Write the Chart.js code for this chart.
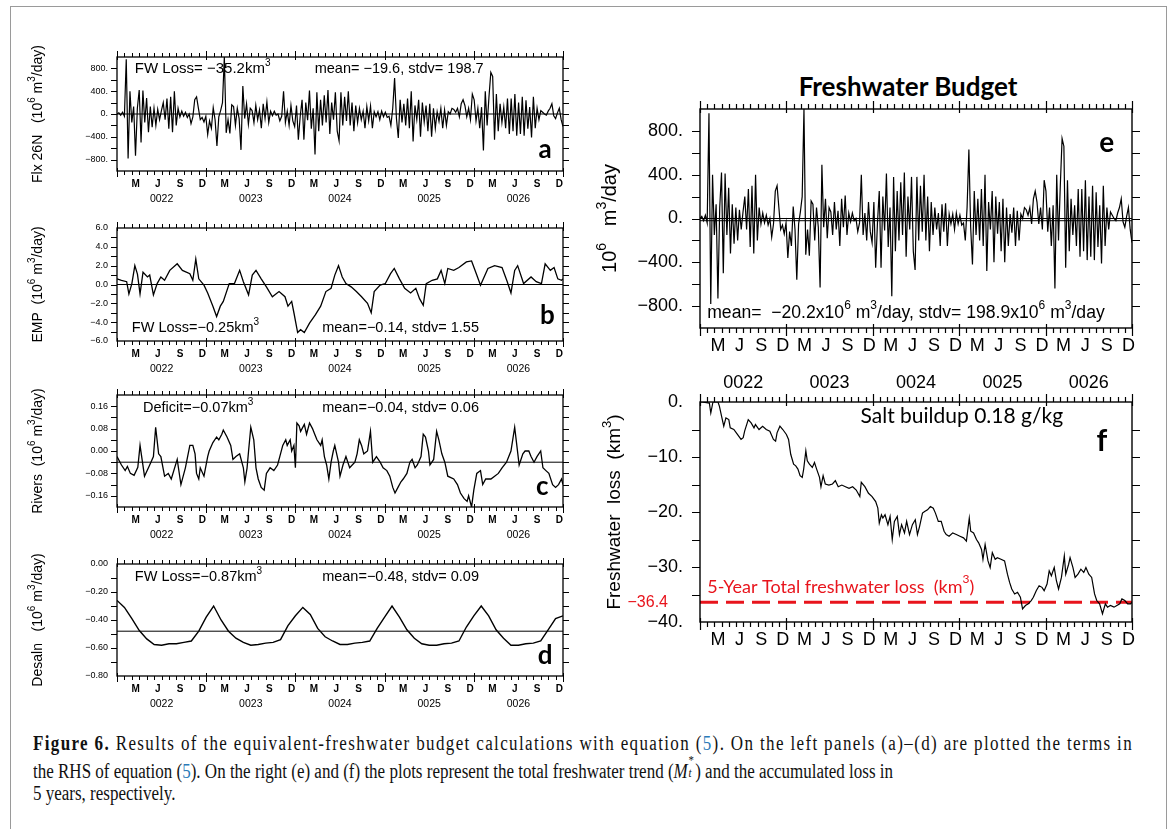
<!DOCTYPE html>
<html>
<head>
<meta charset="utf-8">
<title>Freshwater Budget</title>
<script src="https://cdn.jsdelivr.net/npm/chart.js@4.4.1/dist/chart.umd.min.js"></script>
<style>
  body { margin: 0; background: #fff; width: 1173px; height: 829px; position: relative; overflow: hidden; font-family: "Liberation Sans", Arial, sans-serif; }
  .frame { position: absolute; left: 10px; top: 6px; width: 1155px; height: 900px; border: 1.5px solid #9a9a9a; }
  canvas { position: absolute; }
  #title { position: absolute; left: 758px; width: 300px; top: 70px; text-align: center; font: bold 26px "Lato", sans-serif; color: #000; }
  .cap { position: absolute; left: 33px; font: 20.5px "Liberation Serif", serif; color: #111; white-space: nowrap; line-height: 22px; transform-origin: 0 50%; }
  .cap .ref { color: #2a7ab8; }
  .ms { position: relative; display: inline-block; width: 9px; height: 1em; }
  .ms span { position: absolute; left: 1px; font-size: 13px; line-height: 13px; }
</style>
</head>
<body>
<div class="frame"></div>
<div id="title">Freshwater Budget</div>

<canvas id="pa" width="555" height="195" style="left:20px;top:12px"></canvas>
<canvas id="pb" width="555" height="194" style="left:20px;top:183px"></canvas>
<canvas id="pc" width="555" height="193" style="left:20px;top:350px"></canvas>
<canvas id="pd" width="555" height="193" style="left:20px;top:519px"></canvas>
<canvas id="pe" width="556" height="261" style="left:590px;top:97px"></canvas>
<canvas id="pf" width="556" height="280" style="left:590px;top:372px"></canvas>

<div class="cap" id="cap1" style="top:732px"><b>Figure 6.</b> Results of the equivalent-freshwater budget calculations with equation (<span class="ref">5</span>). On the left panels (a)–(d) are plotted the terms in</div>
<div class="cap" id="cap2" style="top:757px">the RHS of equation (<span class="ref">5</span>). On the right (e) and (f) the plots represent the total freshwater trend (<i>M</i><span class="ms"><span style="top:-4px">*</span><span style="top:9px"><i>t</i></span></span>) and the accumulated loss in</div>
<div class="cap" id="cap3" style="top:782px">5 years, respectively.</div>

<script>
// axis labels
const monthLabels = ['M', 'J', 'S', 'D'];
const yearLabels = ['0022', '0023', '0024', '0025', '0026'];

// (a) Flx 26N and (e) total trend, weekly samples over the 5 years (10^6 m3/day)
const flx26n = [
  0, 20, -20, 30, -40, 960, -780, 400, -150, 130,
  -730, 100, 420, -500, 410, -150, 280, -320, 130, -230,
  100, -200, 80, -100, 60, 200, -100, 270, -260, 300,
  -320, 400, -200, 100, -50, 50, -40, 30, -60, 0,
  -170, -50, 250, 300, 100, -100, -60, -140, -40, -360,
  -120, -250, 110, -100, -560, -50, 60, 200, 1000, -330,
  -100, -340, 160, 130, -200, 100, -80, -630, 490, -80,
  180, -180, 100, 60, -150, 150, -100, 70, -250, 180,
  -80, 210, -150, 50, -30, 50, -20, 0, -120, -40,
  400, -150, 50, -200, 150, -120, -220, 150, -450, -40,
  250, -450, 200, -110, 410, -260, 100, -710, 380, -300,
  250, -200, 330, -150, 420, -350, 200, -100, 380, -300,
  -470, 380, -200, 300, -120, 400, -200, 200, -300, 150,
  -150, 100, -100, 50, -250, 130, -120, 140, -250, 40,
  -50, 40, -100, 50, -50, 30, -60, -40, -200, 100,
  630, -80, -420, 250, -150, 180, -200, 270, -250, 400,
  -480, 150, -100, 250, -400, 200, -140, 150, -300, 180,
  -400, 100, -250, 40, -130, 100, -250, 70, -200, 40,
  0, 100, 80, 30, 100, -50, 180, 250, 150, -50,
  100, -100, 350, 250, -120, 100, -250, 120, -640, 400,
  -200, 300, 730, 660, -450, 350, -300, 180, -150, 120,
  -250, 270, -350, 270, -300, 350, -380, 200, -350, 300,
  -380, 240, -260, 120, -410, 300, -250, 100, -100, 60,
  30, 0, -20, 50, 100, 180, -30, -80, 20, 100,
  -100, -220
];

// (b) EMP
const empMonths = [
  0, 0.6, 1.3, 1.6, 2.0, 2.4, 2.75, 3.1, 3.5, 4.1,
  4.4, 4.9, 5.4, 5.9, 6.4, 7.1, 8.1, 8.8, 9.8, 10.2,
  10.6, 11.0, 11.7, 12.2, 12.9, 13.4, 13.9, 14.3, 15.1, 15.8,
  16.5, 17.0, 17.7, 18.2, 18.7, 19.4, 20.1, 20.9, 21.8, 22.6,
  23.0, 23.5, 23.8, 24.3, 24.7, 25.2, 25.9, 26.7, 27.4, 28.1,
  28.8, 29.3, 29.8, 30.3, 30.8, 31.5, 32.2, 32.9, 33.7, 34.2,
  34.6, 35.4, 36.1, 36.8, 37.3, 38.0, 38.7, 39.5, 40.2, 40.7,
  41.2, 41.6, 42.4, 43.1, 43.6, 44.1, 44.5, 45.3, 46.0, 47.0,
  47.7, 48.4, 48.9, 49.9, 50.8, 51.8, 52.5, 53.0, 53.5, 53.9,
  54.7, 55.7, 56.4, 57.1, 57.6, 58.3, 58.8, 59.3, 59.8, 60
];
const empValues = [
  0.6, 0.45, 0.3, -1.0, 0.1, 2.0, 1.1, -1.0, 1.3, 0.8,
  1.0, -1.1, 0.1, 0.8, 0.45, 1.5, 2.2, 1.5, 1.15, 0.45,
  2.7, 0.6, -0.07, -0.9, -2.3, -3.4, -2.3, -1.8, 0.1, 0.1,
  1.5, 0.3, -1.1, 1.0, 1.5, 0.6, -0.25, -1.3, -0.75, -1.3,
  -2.3, -1.8, -3.0, -5.1, -4.8, -5.1, -4.1, -3.2, -2.3, -0.75,
  -0.4, 1.0, 2.0, 0.8, 0.1, -0.25, -0.75, -1.3, -2.0, -3.0,
  -0.75, -0.07, 0.1, 1.15, 1.7, 0.6, -0.4, -0.9, -0.4, -1.5,
  -2.2, 0.1, 0.45, 0.6, 1.5, 0.1, 1.7, 1.5, 1.8, 2.4,
  2.5, 1.0, -0.07, 1.7, 2.0, 1.8, 0.3, -0.9, 1.5, 2.0,
  0.1, 0.8, 0.3, 0.1, 2.2, 1.5, 1.8, 0.6, 0.45, 0.6
];

// (c) Rivers
const riverMonths = [
  0, 0.6, 1.1, 1.4, 1.8, 2.3, 2.8, 3.1, 3.7, 4.4,
  4.9, 5.2, 5.6, 5.9, 6.4, 6.9, 7.3, 8.1, 8.6, 9.2,
  9.8, 10.2, 10.5, 10.7, 11.0, 11.2, 11.7, 12.2, 12.4, 12.9,
  13.4, 13.7, 14.1, 14.3, 14.8, 15.3, 15.6, 16.0, 16.5, 17.0,
  17.2, 17.5, 17.7, 18.0, 18.4, 18.7, 19.0, 19.4, 19.8, 20.1,
  20.6, 21.1, 21.6, 21.9, 22.3, 22.7, 22.9, 23.3, 23.5, 23.8,
  24.0, 24.2, 24.5, 24.7, 25.2, 25.5, 25.9, 26.3, 26.6, 26.9,
  27.4, 27.6, 27.9, 28.2, 28.5, 28.8, 29.1, 29.3, 29.8, 30.0,
  30.4, 30.8, 31.3, 32.0, 32.3, 32.6, 32.9, 33.2, 33.7, 34.1,
  34.4, 34.9, 35.4, 35.8, 36.3, 36.7, 37.1, 37.4, 37.8, 38.2,
  38.5, 39.0, 39.4, 39.7, 40.1, 40.4, 40.9, 41.2, 41.5, 41.9,
  42.1, 42.6, 43.0, 43.3, 43.7, 44.1, 44.5, 45.3, 45.8, 46.2,
  46.7, 47.1, 47.3, 47.7, 48.0, 48.4, 48.9, 49.2, 49.6, 50.3,
  50.8, 51.3, 51.8, 52.4, 53.0, 53.5, 53.7, 54.1, 54.6, 54.9,
  55.4, 55.7, 56.1, 56.5, 57.0, 57.3, 57.7, 58.1, 58.6, 59.0,
  59.4, 59.8, 60
];
const riverValues = [
  -0.02, -0.05, -0.07, -0.055, -0.08, -0.087, -0.058, 0.02, -0.09, -0.05,
  -0.02, 0.085, -0.01, -0.02, -0.09, -0.08, -0.1, -0.03, -0.12, -0.06,
  0.02, 0.02, -0.01, -0.08, -0.1, -0.06, -0.09, -0.02, 0.0, 0.03,
  0.05, 0.04, 0.06, 0.075, 0.05, 0.02, -0.03, -0.02, -0.01, -0.06,
  -0.11, -0.06, 0.0, 0.085, 0.04, -0.06, -0.1, -0.13, -0.14, -0.08,
  -0.06, -0.07, -0.05, -0.02, 0.02, 0.04, 0.02, 0.04, 0.0, 0.02,
  -0.06, 0.1, 0.09, 0.07, 0.095, 0.06, 0.1, 0.08, 0.06, 0.04,
  0.02, 0.04, -0.02, -0.05, -0.1, -0.04, 0.0, 0.02, -0.04, -0.09,
  -0.05, -0.02, -0.06, -0.04, -0.01, 0.04, 0.02, -0.01, 0.0, 0.07,
  -0.04, -0.02, -0.04, -0.06, -0.07, -0.09, -0.13, -0.15, -0.13, -0.11,
  -0.1, -0.08, -0.04, -0.03, -0.06, -0.05, -0.02, 0.06, 0.05, 0.0,
  -0.05, -0.03, 0.07, 0.04, -0.01, -0.04, -0.09, -0.1, -0.12, -0.15,
  -0.17, -0.18, -0.16, -0.2, -0.14, -0.08, -0.07, -0.12, -0.1, -0.1,
  -0.09, -0.08, -0.06, -0.04, 0.0, 0.085, 0.04, -0.05, -0.01, 0.0,
  0.0, -0.02, -0.04, -0.02, 0.0, -0.06, -0.07, -0.08, -0.12, -0.13,
  -0.12, -0.1, -0.12
];

// (d) Desalination, monthly
const desalValues = [
  -0.26, -0.31, -0.39, -0.475, -0.535, -0.575, -0.58, -0.57, -0.57, -0.56,
  -0.55, -0.48, -0.38, -0.30, -0.40, -0.48, -0.53, -0.56, -0.58, -0.575,
  -0.565, -0.56, -0.54, -0.44, -0.37, -0.31, -0.36, -0.46, -0.52, -0.55,
  -0.575, -0.575, -0.565, -0.56, -0.55, -0.46, -0.38, -0.30, -0.38, -0.47,
  -0.53, -0.57, -0.58, -0.58, -0.57, -0.565, -0.55, -0.45, -0.37, -0.30,
  -0.37, -0.47, -0.53, -0.58, -0.58, -0.57, -0.565, -0.55, -0.47, -0.39,
  -0.37
];

// (f) accumulated freshwater loss (km3)
const lossMonths = [
  0, 0.3, 1.3, 1.5, 1.8, 2.5, 2.7, 3.0, 3.3, 3.6,
  4.0, 4.2, 4.7, 5.2, 5.7, 6.0, 6.2, 6.7, 7.1, 7.5,
  7.7, 8.2, 8.7, 9.2, 9.7, 10.2, 10.5, 10.7, 11.1, 11.5,
  12.0, 12.3, 12.6, 13.0, 13.3, 13.6, 13.9, 14.2, 14.4, 14.7,
  14.9, 15.2, 15.6, 15.9, 16.2, 16.6, 16.8, 17.1, 17.4, 17.9,
  18.4, 18.8, 19.2, 19.7, 20.2, 20.7, 21.2, 21.7, 22.2, 22.4,
  22.9, 23.4, 23.9, 24.4, 24.7, 24.9, 25.2, 25.4, 25.7, 26.1,
  26.4, 26.7, 27.0, 27.4, 27.7, 28.0, 28.4, 28.7, 29.1, 29.5,
  29.9, 30.2, 30.5, 30.9, 31.2, 31.6, 32.0, 32.4, 32.7, 33.1,
  33.5, 33.9, 34.2, 34.6, 35.1, 35.6, 36.1, 36.6, 37.0, 37.4,
  37.6, 38.0, 38.4, 38.7, 39.1, 39.3, 39.6, 40.0, 40.3, 40.6,
  41.0, 41.3, 41.8, 42.3, 42.7, 43.0, 43.3, 43.7, 44.1, 44.5,
  44.8, 45.2, 45.6, 46.0, 46.3, 46.7, 47.1, 47.5, 47.8, 48.2,
  48.5, 48.8, 49.2, 49.5, 49.8, 50.2, 50.6, 50.8, 51.2, 51.4,
  51.8, 52.1, 52.5, 52.9, 53.3, 53.6, 54.0, 54.4, 54.8, 55.1,
  55.5, 55.9, 56.3, 56.6, 57.0, 57.5, 57.9, 58.3, 58.6, 59.0,
  59.4, 59.8, 60.0
];
const lossValues = [
  0, 0, -0.2, -2.0, 0, 0, -0.8, -2.6, -4.4, -2.9,
  -3.2, -4.7, -5.0, -5.9, -6.8, -6.5, -5.3, -3.2, -3.8, -4.7,
  -4.1, -5.0, -4.4, -5.0, -5.3, -6.8, -7.1, -5.6, -4.4, -5.0,
  -5.9, -6.8, -9.5, -11.3, -11.6, -12.2, -13.4, -13.7, -12.2, -8.9,
  -10.7, -11.3, -11.9, -11.0, -12.2, -13.7, -15.4, -13.4, -14.9, -15.1,
  -14.9, -14.3, -15.4, -15.1, -15.4, -15.7, -15.4, -16.0, -17.2, -14.6,
  -15.4, -16.6, -17.2, -18.1, -19.3, -22.0, -20.5, -21.1, -20.5, -22.3,
  -20.8, -25.0, -21.7, -20.8, -24.1, -22.3, -23.8, -21.7, -24.1, -22.3,
  -21.4, -24.1, -22.6, -20.2, -19.9, -19.6, -19.0, -19.3, -20.2, -21.7,
  -21.7, -23.5, -24.1, -24.4, -23.8, -24.1, -24.4, -24.7, -25.3, -21.1,
  -23.5, -23.8, -25.0, -25.6, -26.8, -28.6, -25.9, -28.9, -30.1, -27.4,
  -28.6, -28.3, -28.6, -28.9, -31.3, -32.8, -34.0, -34.9, -34.6, -35.5,
  -37.6, -37.0, -36.7, -36.1, -35.5, -34.3, -33.4, -33.7, -34.3, -33.1,
  -30.7, -31.6, -30.1, -32.5, -34.0, -31.9, -28.0, -31.3, -29.5, -28.3,
  -30.1, -31.9, -31.3, -30.4, -31.0, -30.1, -31.3, -31.9, -34.9, -36.1,
  -36.7, -38.5, -36.7, -37.3, -37.0, -37.3, -37.0, -36.7, -35.8, -36.1,
  -36.7, -36.7, -36.4
];

// reference lines
const refA = 0, refB = 0, refC = -0.04, refD = -0.48;
const refE = [0, -20.2];
const totalLoss = -36.4;

// y tick labels
const yTicksA = [800, 400, 0, -400, -800];
const yTicksB = [6, 4, 2, 0, -2, -4, -6];
const yTicksC = [0.16, 0.08, 0, -0.08, -0.16];
const yTicksD = [0, -0.2, -0.4, -0.6, -0.8];
const yTicksF = [0, -10, -20, -30, -40];

// ---------------------------------------------------------------
const flxMonths = flx26n.map((_, i) => i * 60 / (flx26n.length - 1));
const desalMonths = desalValues.map((_, i) => i);
const monthTickVals = yearLabels.flatMap((_, yi) => monthLabels.map((_, k) => yi * 12 + 2.5 + 3 * k));
const yearTickVals = yearLabels.map((_, i) => i * 12 + 6);
const FONT = 'Liberation Sans';

const minus = s => s.replace('-', '\u2212');
const fmtDot = v => minus(String(v)) + '.';
const fmtFix = n => v => minus(v.toFixed(n));

function drawRich(ctx, str, x, y, o) {
  const size = o.size, fam = o.family || FONT, wt = o.weight || 'normal';
  const parts = [];
  for (let i = 0; i < str.length; i++) {
    if (str[i] === '^') { parts.push({ s: str[i + 1], sup: true }); i++; }
    else if (parts.length && !parts[parts.length - 1].sup) parts[parts.length - 1].s += str[i];
    else parts.push({ s: str[i], sup: false });
  }
  const fontOf = p => `${wt} ${p.sup ? Math.round(size * 0.68) : size}px "${fam}"`;
  let w = 0;
  parts.forEach(p => { ctx.font = fontOf(p); p.w = ctx.measureText(p.s).width; w += p.w; });
  let cx = o.align === 'center' ? x - w / 2 : o.align === 'right' ? x - w : x;
  ctx.fillStyle = o.color || '#000';
  ctx.textBaseline = 'middle';
  ctx.textAlign = 'left';
  parts.forEach(p => {
    ctx.font = fontOf(p);
    ctx.fillText(p.s, cx, p.sup ? y - size * 0.4 : y);
    cx += p.w;
  });
}

function panelPlugin(o) {
  return {
    id: 'panel',
    afterDraw(chart) {
      const { ctx, chartArea: a } = chart;
      const x = chart.scales.x, y = chart.scales.y;
      ctx.save();
      ctx.strokeStyle = '#000';
      ctx.lineWidth = o.frame;
      ctx.strokeRect(a.left, a.top, a.right - a.left, a.bottom - a.top);
      ctx.lineWidth = o.tickWidth;
      ctx.beginPath();
      for (let m = 0; m <= 60; m++) {
        const px = Math.round(x.getPixelForValue(m)) + 0.5;
        const yr = m % 12 === 0;
        const out = yr ? o.yearTick : o.monthTick, inn = yr ? o.yearIn : 0;
        ctx.moveTo(px, a.top - out); ctx.lineTo(px, a.top + inn);
        ctx.moveTo(px, a.bottom + out); ctx.lineTo(px, a.bottom - inn);
      }
      const n = Math.round((y.max - y.min) / o.yMinor);
      for (let i = 1; i < n; i++) {
        const py = Math.round(y.getPixelForValue(y.min + i * o.yMinor)) + 0.5;
        ctx.moveTo(a.left - o.yTick, py); ctx.lineTo(a.left, py);
        ctx.moveTo(a.right, py); ctx.lineTo(a.right + o.yTick, py);
      }
      ctx.stroke();
      (o.texts || []).forEach(t => {
        const px = t.px !== undefined ? t.px : x.getPixelForValue(t.t);
        drawRich(ctx, t.s, px, y.getPixelForValue(t.v), t);
      });
      if (o.title) {
        ctx.translate(o.title.x, (a.top + a.bottom) / 2);
        ctx.rotate(-Math.PI / 2);
        drawRich(ctx, o.title.s, 0, 0, { size: o.title.size, align: 'center' });
      }
      ctx.restore();
    }
  };
}

function makePanel(id, o) {
  const datasets = o.series.map(s => ({
    data: s.t.map((t, i) => ({ x: t, y: s.v[i] })),
    borderColor: s.color || '#000',
    borderWidth: s.width || 1,
    borderDash: s.dash || [],
    pointRadius: 0,
    fill: false,
    tension: 0
  }));
  const noGrid = { display: false, drawTicks: false };
  const fixH = h => s => { s.height = h; s.paddingLeft = 0; s.paddingRight = 0; };
  new Chart(document.getElementById(id), {
    type: 'line',
    data: { datasets },
    options: {
      responsive: false,
      animation: false,
      devicePixelRatio: 1,
      events: [],
      layout: { padding: o.padding },
      plugins: { legend: { display: false }, tooltip: { enabled: false } },
      scales: {
        x: {
          type: 'linear', min: 0, max: 60, position: 'bottom', weight: 1,
          grid: noGrid, border: { display: false },
          afterBuildTicks: ax => { ax.ticks = monthTickVals.map(v => ({ value: v })); },
          afterFit: fixH(o.monthH),
          ticks: {
            autoSkip: false, maxRotation: 0, color: '#000', padding: o.monthPad, font: o.monthFont,
            callback: v => monthLabels[Math.round((v - 2.5) / 3) % 4]
          }
        },
        xYear: {
          type: 'linear', min: 0, max: 60, display: !!o.yearPos, position: o.yearPos || 'bottom', weight: 2,
          grid: noGrid, border: { display: false },
          afterBuildTicks: ax => { ax.ticks = yearTickVals.map(v => ({ value: v })); },
          afterFit: fixH(o.yearPos ? o.yearH : 0),
          ticks: {
            autoSkip: false, maxRotation: 0, color: '#000', padding: o.yearPad, font: o.yearFont,
            callback: v => yearLabels[Math.round((v - 6) / 12)]
          }
        },
        y: {
          type: 'linear', min: o.yMin, max: o.yMax, position: 'left',
          grid: noGrid, border: { display: false },
          afterBuildTicks: ax => { ax.ticks = o.yTicks.map(v => ({ value: v })); },
          afterFit: s => { s.width = o.yW; s.paddingTop = 0; s.paddingBottom = 0; },
          ticks: { autoSkip: false, color: '#000', padding: o.yPad, font: o.yFont, callback: o.yFmt }
        }
      }
    },
    plugins: [panelPlugin(o)]
  });
}

const flat = v => ({ t: [0, 60], v: [v, v] });

const leftBase = {
  padding: { left: 0, right: 12, top: 45, bottom: 0 },
  yW: 97, yPad: 9, yFont: { family: FONT, size: 9 },
  monthH: 18, monthPad: 7, monthFont: { family: FONT, size: 10, weight: 'bold' },
  yearPos: 'bottom', yearH: 18, yearPad: 4, yearFont: { family: FONT, size: 10.5 },
  frame: 1.3, tickWidth: 1, monthTick: 4, yearTick: 6, yearIn: 3, yTick: 6
};
const rightBase = {
  padding: { left: 0, right: 14, top: 12, bottom: 0 },
  yW: 110, yPad: 17, yFont: { family: FONT, size: 18 },
  monthH: 30, monthPad: 7, monthFont: { family: FONT, size: 18 },
  yearH: 30, yearPad: 8, yearFont: { family: FONT, size: 18 },
  frame: 1.4, tickWidth: 1.2, monthTick: 5, yearTick: 8, yearIn: 4, yTick: 8
};

makePanel('pa', Object.assign({}, leftBase, {
  yMin: -1000, yMax: 1000, yTicks: yTicksA, yMinor: 200, yFmt: fmtDot,
  series: [{ t: flxMonths, v: flx26n, width: 1.2 }, flat(refA)],
  texts: [
    { t: 2.4, v: 790, s: 'FW Loss= \u221235.2km^3', size: 15 },
    { t: 26.6, v: 790, s: 'mean= \u221219.6, stdv= 198.7', size: 14.5 },
    { t: 57.6, v: -630, s: 'a', size: 26, weight: 'bold', family: 'Lato', align: 'center' }
  ],
  title: { x: 18, s: 'Flx 26N   (10^6 m^3/day)', size: 14 }
}));

makePanel('pb', Object.assign({}, leftBase, {
  yMin: -6, yMax: 6, yTicks: yTicksB, yMinor: 1, yFmt: fmtFix(1),
  series: [{ t: empMonths, v: empValues, width: 1.3 }, flat(refB)],
  texts: [
    { t: 2.0, v: -4.6, s: 'FW Loss=\u22120.25km^3', size: 14.5 },
    { t: 27.6, v: -4.6, s: 'mean=\u22120.14, stdv= 1.55', size: 14.5 },
    { t: 57.9, v: -3.3, s: 'b', size: 26, weight: 'bold', family: 'Lato', align: 'center' }
  ],
  title: { x: 18, s: 'EMP  (10^6 m^3/day)', size: 14 }
}));

makePanel('pc', Object.assign({}, leftBase, {
  yMin: -0.2, yMax: 0.2, yTicks: yTicksC, yMinor: 0.04, yFmt: fmtFix(2),
  series: [{ t: riverMonths, v: riverValues, width: 1.3 }, flat(refC)],
  texts: [
    { t: 3.5, v: 0.155, s: 'Deficit=\u22120.07km^3', size: 14.5 },
    { t: 27.6, v: 0.155, s: 'mean=\u22120.04, stdv= 0.06', size: 14.5 },
    { t: 57.2, v: -0.128, s: 'c', size: 26, weight: 'bold', family: 'Lato', align: 'center' }
  ],
  title: { x: 18, s: 'Rivers  (10^6 m^3/day)', size: 14 }
}));

makePanel('pd', Object.assign({}, leftBase, {
  yMin: -0.8, yMax: 0, yTicks: yTicksD, yMinor: 0.1, yFmt: fmtFix(2),
  series: [{ t: desalMonths, v: desalValues, width: 1.4 }, flat(refD)],
  texts: [
    { t: 2.4, v: -0.093, s: 'FW Loss=\u22120.87km^3', size: 14.5 },
    { t: 27.6, v: -0.093, s: 'mean=\u22120.48, stdv= 0.09', size: 14.5 },
    { t: 57.6, v: -0.655, s: 'd', size: 26, weight: 'bold', family: 'Lato', align: 'center' }
  ],
  title: { x: 18, s: 'Desaln   (10^6 m^3/day)', size: 14 }
}));

makePanel('pe', Object.assign({}, rightBase, {
  yMin: -1000, yMax: 1000, yTicks: yTicksA, yMinor: 200, yFmt: fmtDot,
  yearPos: null,
  series: [{ t: flxMonths, v: flx26n, width: 1.2 }, flat(refE[0]), flat(refE[1])],
  texts: [
    { t: 1.0, v: -865, s: 'mean=  \u221220.2x10^6 m^3/day, stdv= 198.9x10^6 m^3/day', size: 17.6 },
    { t: 56.5, v: 690, s: 'e', size: 28, weight: 'bold', family: 'Lato', align: 'center' }
  ],
  title: { x: 20, s: '10^6   m^3/day', size: 20 }
}));

makePanel('pf', Object.assign({}, rightBase, {
  padding: { left: 0, right: 14, top: 0, bottom: 0 },
  yMin: -40, yMax: 0, yTicks: yTicksF, yMinor: 5, yFmt: fmtDot,
  yearPos: 'top',
  series: [
    { t: lossMonths, v: lossValues, width: 1.2 },
    Object.assign(flat(totalLoss), { color: '#e8141c', width: 3, dash: [18, 8] })
  ],
  texts: [
    { t: 22.3, v: -2.5, s: 'Salt buildup 0.18 g/kg', size: 21, family: 'Lato' },
    { t: 1.0, v: -33.6, s: '5-Year Total freshwater loss  (km^3)', size: 18, family: 'Lato', color: '#e8141c' },
    { px: 78, t: 0, v: totalLoss, s: '\u221236.4', size: 16, color: '#e8141c', align: 'right' },
    { t: 55.8, v: -7.1, s: 'f', size: 30, weight: 'bold', family: 'Lato', align: 'center' }
  ],
  title: { x: 25, s: 'Freshwater  loss  (km^3)', size: 19 }
}));

// caption: one condensed scale for all lines, first line spread to the full width
(() => {
  const c1 = document.getElementById('cap1'), c2 = document.getElementById('cap2'), c3 = document.getElementById('cap3');
  const k = 860 / c2.getBoundingClientRect().width;
  [c1, c2, c3].forEach(el => { el.style.transform = `scaleX(${k})`; });
  const chars = c1.textContent.length;
  const extra = (1100 - c1.getBoundingClientRect().width) / k / chars;
  c1.style.letterSpacing = `${extra}px`;
})();
</script>
</body>
</html>
